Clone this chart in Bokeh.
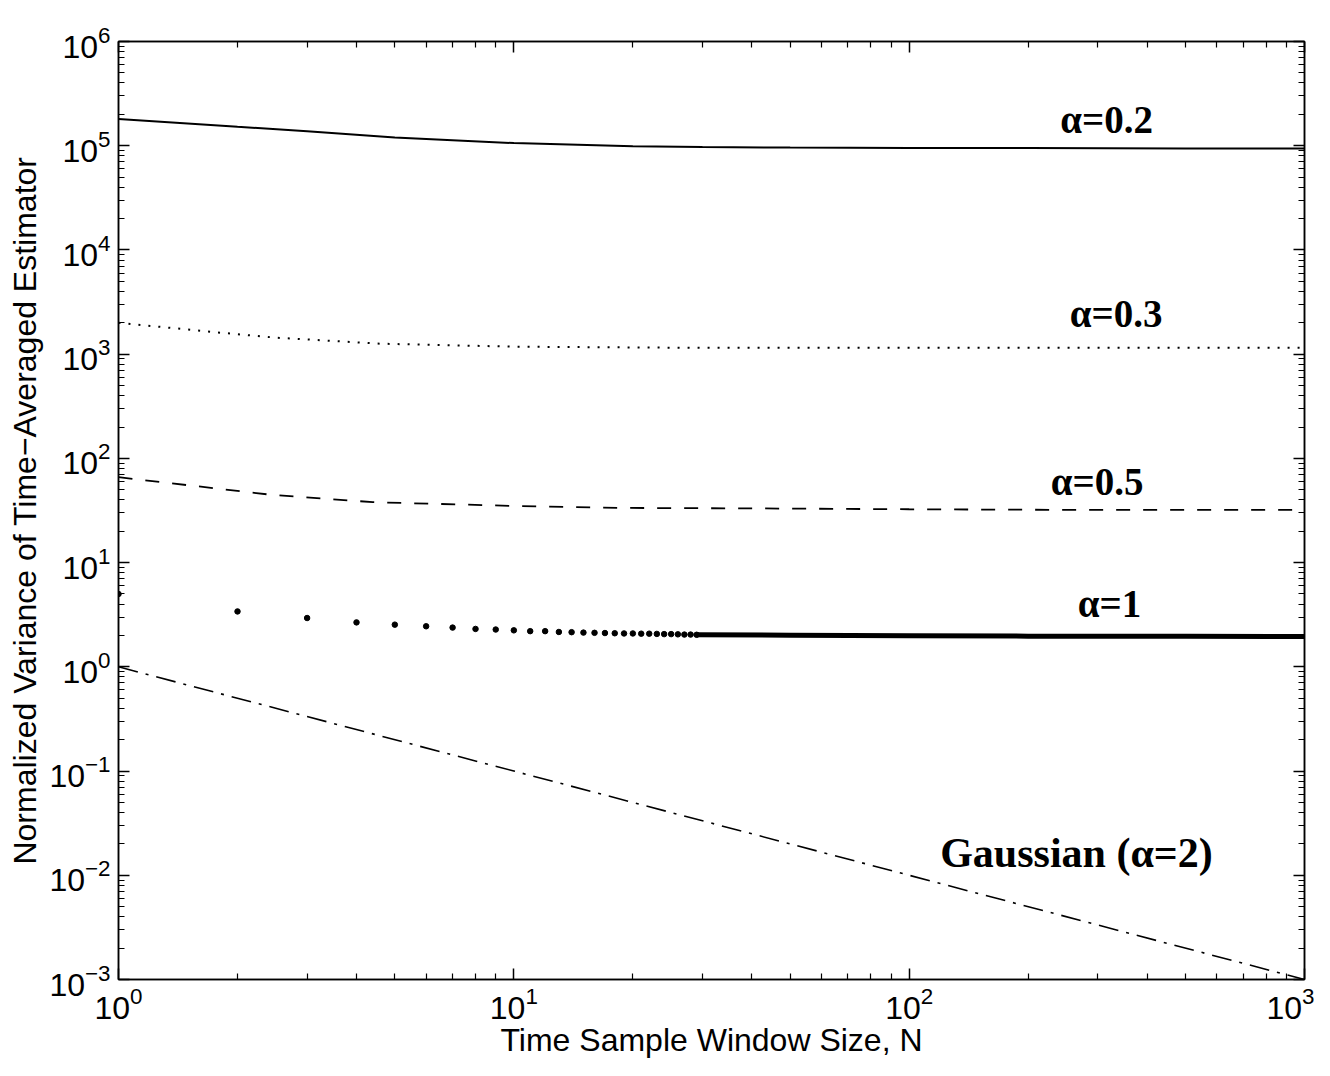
from bokeh.plotting import figure
from bokeh.models import LogAxis, FixedTicker, Label
from bokeh.embed import file_html
from bokeh.resources import INLINE

# ---- data ----
N_a02 = [1, 2, 3, 5, 10, 20, 30, 50, 100, 200, 500, 1000]
V_a02 = [1.8e5, 1.52e5, 1.38e5, 1.2e5, 1.06e5, 9.9e4, 9.7e4, 9.6e4, 9.5e4, 9.5e4, 9.4e4, 9.4e4]

N_a03 = [1, 1.74, 2.5, 4.6, 10, 30, 100, 300, 1000]
V_a03 = [2.0e3, 1.63e3, 1.44e3, 1.26e3, 1.18e3, 1.15e3, 1.15e3, 1.15e3, 1.15e3]

N_a05 = [1, 2.4, 4.4, 10, 18.5, 50, 100, 300, 1000]
V_a05 = [66, 45, 38, 35, 33.5, 33, 32.5, 32, 32]

N_a1_dots = list(range(1, 30))
V_a1_dots = [5.0, 3.40, 2.94, 2.67, 2.54, 2.45, 2.38, 2.31, 2.28, 2.24,
             2.20, 2.20, 2.16, 2.15, 2.13, 2.12, 2.11, 2.10, 2.09, 2.09,
             2.08, 2.08, 2.07, 2.06, 2.06, 2.05, 2.04, 2.04, 2.03]
N_a1_dense = [29, 50, 100, 200, 500, 1000]
V_a1_dense = [2.03, 2.01, 1.99, 1.97, 1.96, 1.95]

N_gauss = [1, 10, 100, 1000]
V_gauss = [1, 0.1, 0.01, 0.001]

x_major = [1, 10, 100, 1000]
y_exponents = list(range(-3, 7))

labels_text = ["\u03b1=0.2", "\u03b1=0.3", "\u03b1=0.5", "\u03b1=1", "Gaussian (\u03b1=2)"]
labels_N = [316, 334, 299, 321, 265]
labels_V = [2.05e5, 2.79e3, 68.6, 4.6, 0.0187]
labels_size = ["39px", "39px", "39px", "39px", "42px"]

# ---- figure ----
p = figure(width=1314, height=1060, x_axis_type="log", y_axis_type="log",
           x_range=(1, 1000), y_range=(1e-3, 1e6),
           output_backend="svg", toolbar_location=None,
           min_border_left=118, min_border_right=10,
           min_border_top=41, min_border_bottom=80)
p.background_fill_color = "white"
p.border_fill_color = "white"
p.outline_line_color = "black"
p.outline_line_width = 1.5
p.xgrid.visible = False
p.ygrid.visible = False

y_major = [10.0 ** k for k in y_exponents]
y_minor = [m * 10.0 ** k for k in y_exponents[:-1] for m in range(2, 10)]
x_minor = [m * 10.0 ** k for k in range(0, 3) for m in range(2, 10)]


def style_axis(ax, major, minor, show):
    ax.ticker = FixedTicker(ticks=major, minor_ticks=minor)
    ax.major_tick_in = 11
    ax.major_tick_out = 0
    ax.minor_tick_in = 6
    ax.minor_tick_out = 0
    ax.axis_line_color = "black"
    ax.axis_line_width = 1.5
    ax.major_tick_line_color = "black"
    ax.major_tick_line_width = 1.5
    ax.minor_tick_line_color = "black"
    ax.minor_tick_line_width = 1.2
    ax.major_label_text_font = "Liberation Sans"
    ax.major_label_text_color = "black"
    if show:
        ax.major_label_text_font_size = "32px"
    else:
        ax.major_label_text_font_size = "1px"
        ax.major_label_text_alpha = 0
        ax.major_label_standoff = 0


xa = p.xaxis[0]
ya = p.yaxis[0]
style_axis(xa, x_major, x_minor, True)
style_axis(ya, y_major, y_minor, True)
xa.major_label_standoff = 7
ya.major_label_standoff = 8
xa.axis_label = "Time Sample Window Size, N"
ya.axis_label = "Normalized Variance of Time\u2212Averaged Estimator"
for ax in (xa, ya):
    ax.axis_label_text_font = "Liberation Sans"
    ax.axis_label_text_font_style = "normal"
    ax.axis_label_text_font_size = "32px"
    ax.axis_label_text_color = "black"
xa.axis_label_standoff = 0
ya.axis_label_standoff = 3

top_ax = LogAxis()
style_axis(top_ax, x_major, x_minor, False)
p.add_layout(top_ax, "above")
right_ax = LogAxis()
style_axis(right_ax, y_major, y_minor, False)
p.add_layout(right_ax, "right")

# ---- series ----
p.line(N_a02, V_a02, line_color="black", line_width=2)
p.line(N_a03, V_a03, line_color="black", line_width=2, line_dash="2 8")
p.line(N_a05, V_a05, line_color="black", line_width=1.8, line_dash="14 13")
p.line(N_a1_dense, V_a1_dense, line_color="black", line_width=5)
p.scatter(N_a1_dots, V_a1_dots, size=5.5, color="black")
p.line(N_gauss, V_gauss, line_color="black", line_width=1.6, line_dash="20 8 3 8")

for t, xv, yv, fs in zip(labels_text, labels_N, labels_V, labels_size):
    p.add_layout(Label(x=xv, y=yv, text=t, text_font="Liberation Serif",
                       text_font_style="bold", text_font_size=fs,
                       text_color="black", text_align="center",
                       text_baseline="middle", y_offset=-6))

open("out.html", "w").write(file_html(p, INLINE))
